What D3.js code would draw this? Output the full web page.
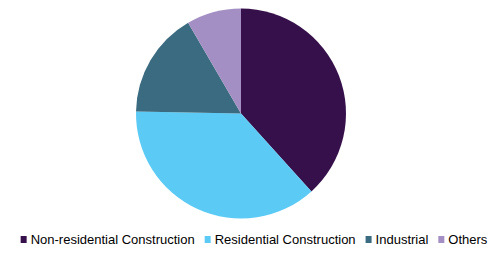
<!DOCTYPE html>
<html><head><meta charset="utf-8">
<script src="https://cdn.jsdelivr.net/npm/d3@7"></script>
<style>html,body{margin:0;padding:0;background:#fff;}svg{display:block;}</style>
</head><body>
<svg id="chart" width="502" height="260"></svg>
<script>
const categories = ["Non-residential Construction", "Residential Construction", "Industrial", "Others"];
const shares = [38.3, 37.0, 16.3, 8.4];
const colors = ["#36104A", "#5BCBF6", "#3B6B80", "#A48FC4"];

const svg = d3.select("#chart");
const cx = 241, cy = 113.5, r = 105;

const pie = d3.pie().sort(null).value(d => d.v);
const arc = d3.arc().innerRadius(0).outerRadius(r);
const data = categories.map((c, i) => ({c, v: shares[i], col: colors[i]}));

svg.append("g").attr("transform", `translate(${cx},${cy})`)
  .selectAll("path").data(pie(data)).join("path")
  .attr("d", arc).attr("fill", d => d.data.col);

const color = d3.scaleOrdinal().domain(categories).range(colors);
const lg = svg.append("g").attr("font-family", "'Liberation Sans', Arial, sans-serif").attr("font-size", 13);
const items = lg.selectAll("g").data(categories).join("g");
items.append("rect").attr("width", 6).attr("height", 7).attr("y", 236).attr("fill", d => color(d));
items.append("text").attr("x", 10).attr("y", 244.3).attr("fill", "#000").text(d => d);
let widths = [];
items.each(function(){ widths.push(10 + d3.select(this).select("text").node().getComputedTextLength()); });
const gap = 10;
const total = d3.sum(widths) + gap * (widths.length - 1);
let x = 254 - total / 2;
items.each(function(d, i){ d3.select(this).attr("transform", `translate(${x},0)`); x += widths[i] + gap; });
</script>
</body></html>
